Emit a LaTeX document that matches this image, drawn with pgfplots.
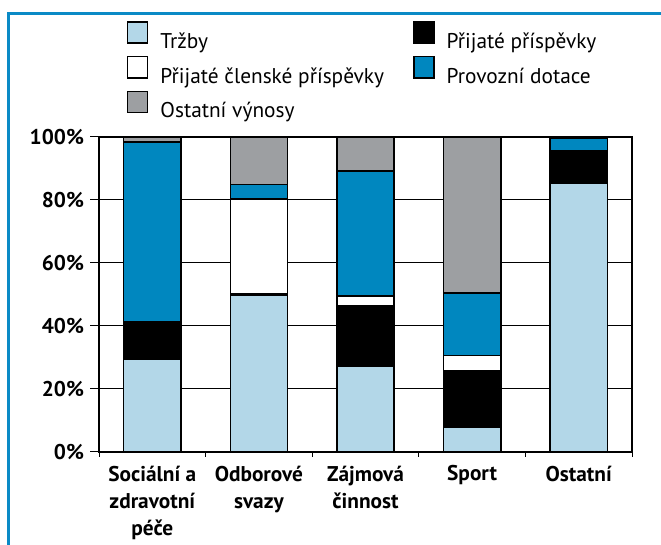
\documentclass[border=0pt]{standalone}
\usepackage{fontspec}
\setmainfont{PT Sans}
\usepackage{pgfplots}
\pgfplotsset{compat=1.18}
\definecolor{cTr}{HTML}{B3D7E8}
\definecolor{cDot}{HTML}{0087BF}
\definecolor{cGray}{HTML}{9D9FA2}
\definecolor{cFrame}{HTML}{0A8AC6}
\pgfplotsset{lbox/.style={legend image code/.code={%
    \node[fill=#1, draw=black, line width=1.1pt, minimum size=15pt, inner sep=0pt, outer sep=0pt, anchor=south west] at (0pt,0pt) {};}}}
\begin{document}
\begin{tikzpicture}
\path[use as bounding box, fill=white] (0pt,0pt) rectangle (495.75pt,408.75pt);
\draw[cFrame, line width=2pt] (6.5pt,0pt) -- (6.5pt,398.5pt) -- (495.75pt,398.5pt);
\begin{axis}[
  at={(74.25pt,69.75pt)}, anchor=south west,
  scale only axis, width=399.75pt, height=236.25pt,
  ybar stacked, bar width=43pt,
  xmin=-0.5, xmax=4.5, ymin=0, ymax=100,
  ytick={0,20,...,100},
  yticklabel={\pgfmathprintnumber[assume math mode=true]{\tick}\%},
  yticklabel style={font=\fontsize{16}{20}\selectfont\bfseries, xshift=-1pt},
  ymajorgrids, grid style={black, line width=0.75pt},
  axis line style={line width=1.1pt},
  xtick={0,...,4},
  xticklabels={{Sociální a\\zdravotní\\péče},{Odborové\\svazy},{Zájmová\\činnost},Sport,Ostatní},
  xticklabel style={align=center, font=\fontsize{16}{20.5}\selectfont\bfseries},
  major x tick style={draw=none},
  minor xtick={-0.5,0.5,...,4.5},
  minor x tick style={black, line width=0.75pt},
  major y tick style={black, line width=0.75pt},
  tick align=outside, major tick length=6.75pt, minor tick length=3.75pt,
  xtick pos=bottom, ytick pos=left,
  every axis plot/.append style={draw=black, line width=1.1pt},
  legend columns=2,
  legend cell align=left,
  legend style={at={(0.0525,1.368)}, anchor=north west, draw=none, fill=none,
    inner sep=0pt, outer sep=0pt,
    font=\fontsize{16}{20}\selectfont,
    nodes={inner sep=0pt, text height=12pt, text depth=4pt},
    row sep=1.5pt,
    /tikz/every odd column/.append style={column sep=9pt},
    /tikz/every even column/.append style={column sep=22pt}},
]
\addplot[fill=cTr, lbox=cTr] coordinates {(0,29.5) (1,49.7) (2,27.2) (3,8.0) (4,85.2)};
\addplot[fill=black, lbox=black] coordinates {(0,11.8) (1,0.7) (2,19.3) (3,17.7) (4,10.4)};
\addplot[fill=white, lbox=white] coordinates {(0,0.2) (1,29.9) (2,3.0) (3,5.0) (4,0.0)};
\addplot[fill=cDot, lbox=cDot] coordinates {(0,56.9) (1,4.7) (2,39.7) (3,19.8) (4,4.1)};
\addplot[fill=cGray, lbox=cGray] coordinates {(0,1.6) (1,15.0) (2,10.8) (3,49.5) (4,0.3)};
\legend{Tržby, Přijaté příspěvky, Přijaté členské příspěvky, Provozní dotace, Ostatní výnosy}
\end{axis}
\end{tikzpicture}
\end{document}
